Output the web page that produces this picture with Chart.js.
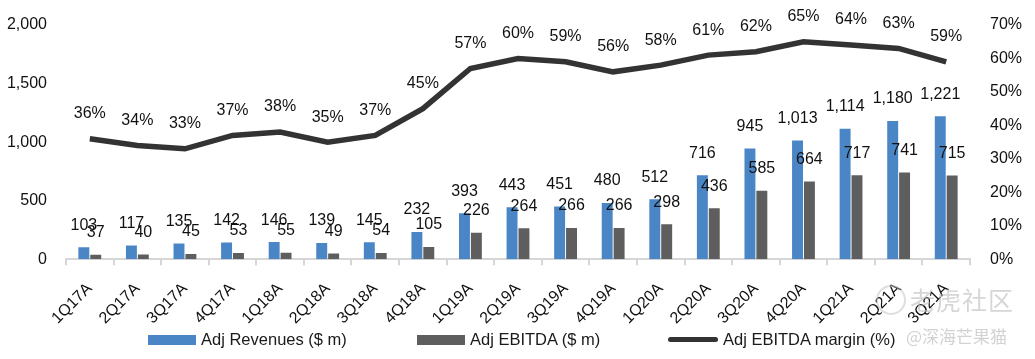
<!DOCTYPE html>
<html>
<head>
<meta charset="utf-8">
<script src="https://cdn.jsdelivr.net/npm/chart.js@4/dist/chart.umd.min.js"></script>
<style>
  html, body { margin: 0; padding: 0; background: #fff; }
  #wrap { position: relative; width: 1035px; height: 359px; font-family: "Liberation Sans", Arial, sans-serif; }
  canvas { position: absolute; left: 0; top: 0; }
  .leg { position: absolute; top: 330px; font-size: 16.5px; color: #1a1a1a; display: flex; align-items: center; white-space: nowrap; }
  .sw { display: inline-block; margin-right: 5px; }
  .wm1 { position: absolute; left: 910px; top: 281px; font-family: "Noto Sans CJK SC", sans-serif; font-size: 25px; color: rgba(180,180,180,0.55); letter-spacing: 1px; }
  .wm2 { position: absolute; left: 906px; top: 323px; font-family: "Noto Sans CJK SC", sans-serif; font-size: 17px; color: rgba(180,180,180,0.6); }
  .logo { position: absolute; left: 876px; top: 285px; width: 26px; height: 26px; border: 2px solid rgba(190,190,190,0.5); border-radius: 50%; }
</style>
</head>
<body>
<div id="wrap">
  <canvas id="c" width="1035" height="359"></canvas>
  <div class="leg" style="left:148px"><span class="sw" style="width:48px;height:10px;background:#4a86c6"></span>Adj Revenues ($ m)</div>
  <div class="leg" style="left:417px"><span class="sw" style="width:48px;height:10px;background:#5e5e5f"></span>Adj EBITDA ($ m)</div>
  <div class="leg" style="left:668px"><span class="sw" style="width:50px;height:5px;background:#333;border-radius:3px"></span>Adj EBITDA margin (%)</div>
  <div class="logo"></div>
  <div class="wm1">老虎社区</div>
  <div class="wm2">@深海芒果猫</div>
</div>
<script>
const categories = ["1Q17A","2Q17A","3Q17A","4Q17A","1Q18A","2Q18A","3Q18A","4Q18A","1Q19A","2Q19A","3Q19A","4Q19A","1Q20A","2Q20A","3Q20A","4Q20A","1Q21A","2Q21A","3Q21A"];
const revenues = [103,117,135,142,146,139,145,232,393,443,451,480,512,716,945,1013,1114,1180,1221];
const ebitda = [37,40,45,53,55,49,54,105,226,264,266,266,298,436,585,664,717,741,715];
const margin = [36,34,33,37,38,35,37,45,57,60,59,56,58,61,62,65,64,63,59];
const leftTicks = [0,500,1000,1500,2000];
const rightTicks = [0,10,20,30,40,50,60,70];

const FONT = "'Liberation Sans', Arial, sans-serif";

const labelPlugin = {
  id: 'valueLabels',
  afterDatasetsDraw(chart) {
    const ctx = chart.ctx;
    ctx.save();
    ctx.font = "16px " + FONT;
    ctx.fillStyle = "#111";
    ctx.textAlign = "center";
    ctx.textBaseline = "middle";
    chart.data.datasets.forEach((ds, di) => {
      const meta = chart.getDatasetMeta(di);
      meta.data.forEach((el, i) => {
        const v = ds.data[i];
        let txt, off;
        if (ds.type === 'line') { txt = v + "%"; off = 25; }
        else { txt = v.toLocaleString('en-US'); off = 22; }
        ctx.fillText(txt, el.x, el.y - off);
      });
    });
    ctx.restore();
  }
};

new Chart(document.getElementById('c'), {
  data: {
    labels: categories,
    datasets: [
      { type: 'line', label: 'Adj EBITDA margin (%)', data: margin, yAxisID: 'y2', borderColor: '#333333', backgroundColor: '#333333', borderWidth: 5.5, pointRadius: 0, tension: 0, order: 0 },
      { type: 'bar', label: 'Adj Revenues ($ m)', data: revenues, yAxisID: 'y', backgroundColor: '#4a86c6', categoryPercentage: 0.5, barPercentage: 0.92, order: 1 },
      { type: 'bar', label: 'Adj EBITDA ($ m)', data: ebitda, yAxisID: 'y', backgroundColor: '#5e5e5f', categoryPercentage: 0.5, barPercentage: 0.92, order: 2 }
    ]
  },
  options: {
    responsive: false,
    animation: false,
    layout: { autoPadding: false, padding: { left: 7, right: 13, top: 25, bottom: 17 } },
    plugins: { legend: { display: false }, tooltip: { enabled: false } },
    scales: {
      x: {
        offset: true,
        afterFit: (s) => { s.paddingLeft = 0; s.paddingRight = 0; },
        grid: { offset: true, drawOnChartArea: false, drawTicks: true, tickLength: 6, color: '#d6d6d6', lineWidth: 2 },
        border: { color: '#d6d6d6', width: 2 },
        ticks: { color: '#111', font: { size: 16, family: FONT }, maxRotation: 45, minRotation: 45, padding: 14, autoSkip: false }
      },
      y: {
        position: 'left', min: 0, max: 2000,
        afterBuildTicks: (s) => { s.ticks = leftTicks.map(v => ({ value: v })); },
        afterFit: (s) => { s.paddingTop = 0; s.paddingBottom = 0; s.width = 59; },
        grid: { display: false, drawTicks: false },
        border: { display: false },
        ticks: { color: '#111', font: { size: 16, family: FONT }, padding: 19, callback: (v) => v.toLocaleString('en-US') }
      },
      y2: {
        position: 'right', min: 0, max: 70,
        afterBuildTicks: (s) => { s.ticks = rightTicks.map(v => ({ value: v })); },
        afterFit: (s) => { s.paddingTop = 0; s.paddingBottom = 0; s.width = 52; },
        grid: { display: false, drawTicks: false },
        border: { display: false },
        ticks: { color: '#111', font: { size: 16, family: FONT }, padding: 20, callback: (v) => v + '%' }
      }
    }
  },
  plugins: [labelPlugin]
});
</script>
</body>
</html>
